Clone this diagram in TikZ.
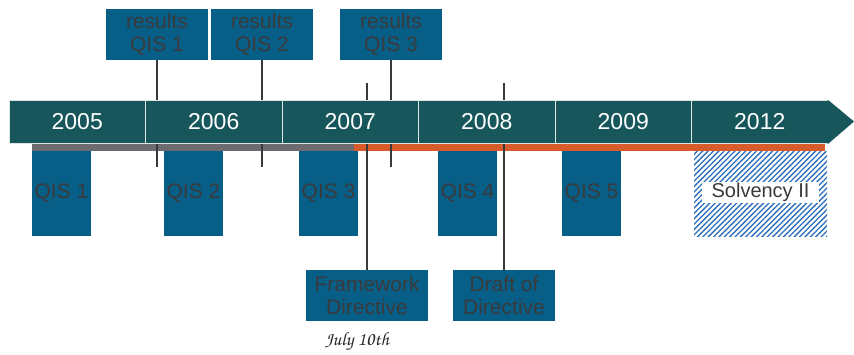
\documentclass[tikz,border=0pt]{standalone}
\usepackage{fontspec}
\setmainfont{Liberation Sans}
\usepackage{tikz}
\usetikzlibrary{backgrounds, patterns.meta}

\definecolor{bandteal}{HTML}{17575C}
\definecolor{barGray}{HTML}{6E6B70}
\definecolor{barOrange}{HTML}{D85C2B}
\definecolor{boxBlue}{HTML}{075F87}
\definecolor{txtDark}{HTML}{3A3A3C}
\definecolor{hatchBlue}{HTML}{2B6CB8}

\newcommand{\scriptdate}{\fontencoding{T1}\fontfamily{pzc}\fontseries{mb}\fontshape{it}\selectfont}

\begin{document}
\begin{tikzpicture}[
    x=0.5pt, y=-0.5pt,
    year/.style={rectangle, fill=bandteal, draw=white!85!bandteal, line width=0.5pt, minimum width=68.25pt, minimum height=21.5pt, inner sep=0pt, text=white, font=\fontsize{11.5}{13}\selectfont},
    qis/.style={rectangle, fill=boxBlue, minimum width=29.5pt, minimum height=42.5pt, inner sep=0pt, text=txtDark, font=\fontsize{10.5}{12}\selectfont},
    event/.style={rectangle, fill=boxBlue, minimum width=51pt, minimum height=25.5pt, inner sep=0pt, align=center, text=txtDark, font=\fontsize{10.5}{11.5}\selectfont},
    link/.style={draw=txtDark, line width=1.4pt}
]
    \useasboundingbox (0,0) rectangle (854,354);

    % results boxes above the time line
    \node[event] (res1) at (157,34.5) {results\\QIS 1};
    \node[event] (res2) at (262,34.5) {results\\QIS 2};
    \node[event] (res3) at (391,34.5) {results\\QIS 3};

    % the years
    \node[year] (y2005) at (77.25,121.5) {2005};
    \node[year] (y2006) at (213.75,121.5) {2006};
    \node[year] (y2007) at (350.25,121.5) {2007};
    \node[year] (y2008) at (486.75,121.5) {2008};
    \node[year] (y2009) at (623.25,121.5) {2009};
    \node[year] (y2012) at (759.75,121.5) {2012};
    \fill[bandteal] (y2012.north east) ++(-1,0) -- (854,121.5) -- (y2012.south east) -- ++(-1,0) -- cycle;

    % impact studies
    \node[qis] (qis1) at (61.5,193.5) {QIS 1};
    \node[qis] (qis2) at (193.5,193.5) {QIS 2};
    \node[qis] (qis3) at (328.5,193.5) {QIS 3};
    \node[qis] (qis4) at (467.5,193.5) {QIS 4};
    \node[qis] (qis5) at (591.5,193.5) {QIS 5};
    \node[rectangle, minimum width=66.5pt, minimum height=42.5pt, inner sep=0pt,
          pattern={Lines[angle=45, distance=1.9pt, line width=0.65pt]}, pattern color=hatchBlue] (solv) at (760.5,193.5) {};
    \node[rectangle, fill=white, minimum width=58.5pt, minimum height=10.5pt, inner sep=0pt,
          text=txtDark, font=\fontsize{10}{12}\selectfont] (solvlbl) at (760.5,192.5) {Solvency II};

    % directives
    \node[event, minimum width=61pt] (frame) at (367,295.5) {Framework\\Directive};
    \node[event] (draft) at (504,295.5) {Draft of\\Directive};
    \node[text=black!85, font=\scriptdate\fontsize{9.5}{11}\selectfont] (july) at (357,342) {July 10th};

    \coordinate (res1end) at (157,167);
    \coordinate (res2end) at (262,167);
    \coordinate (res3end) at (391,167);
    \coordinate (frametop) at (367,83);
    \coordinate (drafttop) at (504,83);

    \begin{scope}[on background layer]
        % bars under the years
        \fill[barGray] (32,144) rectangle (354,151);
        \fill[barOrange] (354,144) rectangle (825,151);
        % connectors
        \draw[link] (res1) -- (res1end);
        \draw[link] (res2) -- (res2end);
        \draw[link] (res3) -- (res3end);
        \draw[link] (frametop) -- (frame);
        \draw[link] (drafttop) -- (draft);
    \end{scope}
\end{tikzpicture}
\end{document}
